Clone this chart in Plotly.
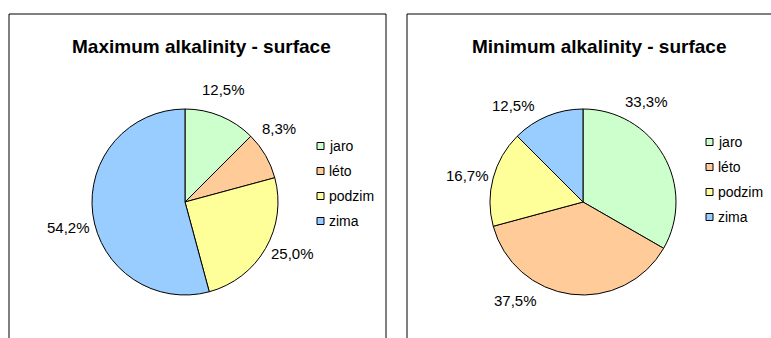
import math
import plotly.graph_objects as go

# Seasonal share of alkalinity extremes at the surface (%)
seasons = ["jaro", "léto", "podzim", "zima"]
max_share = [12.5, 8.3, 25.0, 54.2]
min_share = [33.3, 37.5, 16.7, 12.5]
season_colors = ["#CCFFCC", "#FFCC99", "#FFFF99", "#99CCFF"]
titles = ["Maximum alkalinity - surface", "Minimum alkalinity - surface"]

W, H = 771, 338
FONT = "Arial, Liberation Sans, sans-serif"


def px_x(v):
    return v / W


def px_y(v):
    return 1 - v / H


def pct_text(values):
    return [f"{v:.1f}".replace(".", ",") + "%" for v in values]


def mid_angles(values):
    """Clockwise angle (deg from 12 o'clock) of each slice's midpoint."""
    total = float(sum(values))
    out, acc = [], 0.0
    for v in values:
        out.append(360.0 * (acc + v / 2.0) / total)
        acc += v
    return out


fig = go.Figure()

# panel geometry: pie centre, radius, legend anchor, title centre, frame,
# label distance beyond the rim and per-label angular nudge (deg)
panels = [
    dict(values=max_share, cx=185, cy=202, r=93, leg_x=317, leg_y=146,
         title_x=201, frame=(9, 14, 386, H + 5),
         label_gap=26, nudge=[-3.5, -8, -4, -5]),
    dict(values=min_share, cx=583, cy=202, r=93, leg_x=706, leg_y=142,
         title_x=599, frame=(407, 14, W + 5, H + 5),
         label_gap=26, nudge=[-27.5, 27, -2, -13.5]),
]

shapes = []
annotations = []

for p, title in zip(panels, titles):
    fig.add_trace(go.Pie(
        labels=seasons,
        values=p["values"],
        textinfo="none",
        marker=dict(colors=season_colors, line=dict(color="#000000", width=1)),
        sort=False,
        direction="clockwise",
        rotation=0,
        showlegend=False,
        hoverinfo="label+percent",
        domain=dict(
            x=[px_x(p["cx"] - p["r"]), px_x(p["cx"] + p["r"])],
            y=[px_y(p["cy"] + p["r"]), px_y(p["cy"] - p["r"])],
        ),
    ))

    # percentage labels outside the rim, along each slice's direction
    for txt, ang, nd in zip(pct_text(p["values"]), mid_angles(p["values"]), p["nudge"]):
        a = math.radians(ang + nd)
        d = p["r"] + p["label_gap"]
        lx = p["cx"] + d * math.sin(a)
        ly = p["cy"] - d * math.cos(a)
        annotations.append(dict(text=txt, xref="paper", yref="paper",
                                x=px_x(lx), y=px_y(ly),
                                xanchor="center", yanchor="middle", showarrow=False,
                                font=dict(family=FONT, size=15, color="#000000")))

    x0, y0, x1, y1 = p["frame"]
    shapes.append(dict(type="rect", xref="paper", yref="paper",
                       x0=px_x(x0), x1=px_x(x1), y0=px_y(y1), y1=px_y(y0),
                       line=dict(color="#000000", width=1),
                       fillcolor="rgba(0,0,0,0)"))

    annotations.append(dict(text=f"<b>{title}</b>", xref="paper", yref="paper",
                            x=px_x(p["title_x"]), y=px_y(46),
                            xanchor="center", yanchor="middle", showarrow=False,
                            font=dict(family=FONT, size=19, color="#000000")))

    # legend: square swatch + season name per row
    for i, (name, col) in enumerate(zip(seasons, season_colors)):
        yc = p["leg_y"] + 25 * i
        lx = p["leg_x"]
        shapes.append(dict(type="rect", xref="paper", yref="paper",
                           x0=px_x(lx), x1=px_x(lx + 7),
                           y0=px_y(yc + 3.5), y1=px_y(yc - 3.5),
                           line=dict(color="#000000", width=1), fillcolor=col))
        annotations.append(dict(text=name, xref="paper", yref="paper",
                                x=px_x(lx + 10), y=px_y(yc),
                                xanchor="left", yanchor="middle", showarrow=False,
                                font=dict(family=FONT, size=14, color="#000000")))

fig.update_layout(
    width=W, height=H,
    margin=dict(l=0, r=0, t=0, b=0),
    paper_bgcolor="#FFFFFF",
    plot_bgcolor="#FFFFFF",
    shapes=shapes,
    annotations=annotations,
)

fig.write_html("out.html")
